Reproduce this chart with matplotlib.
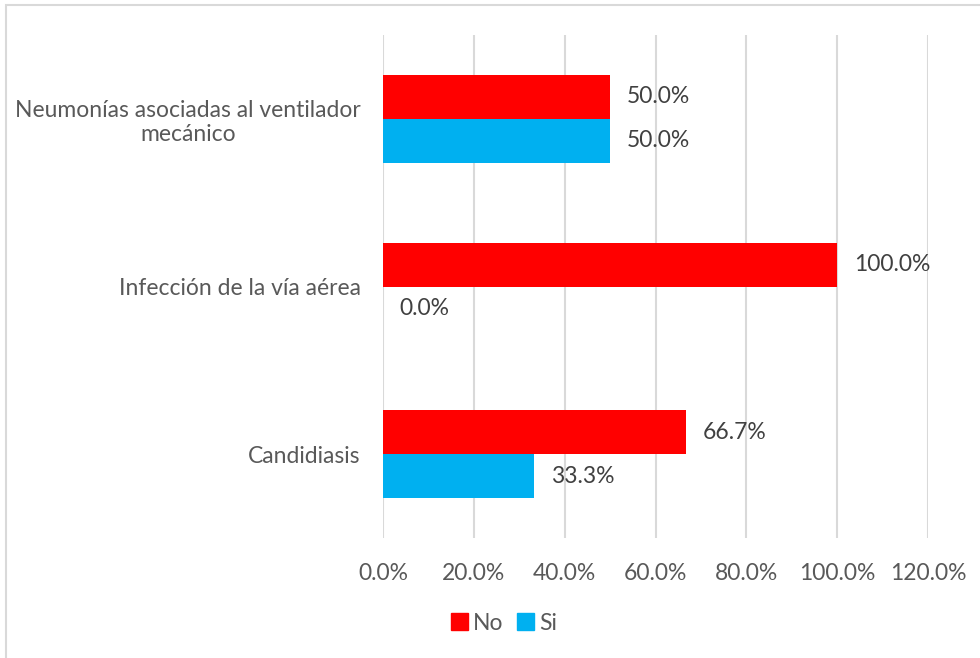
import matplotlib
matplotlib.use("Agg")
import matplotlib.pyplot as plt
from matplotlib.patches import Patch, Rectangle
import numpy as np

plt.rcParams['font.family'] = ['Liberation Sans Narrow', 'Lato', 'DejaVu Sans']

# Data (bottom to top on the chart)
categories = ["Candidiasis", "Infección de la vía aérea",
              "Neumonías asociadas al ventilador\nmecánico"]
no_values = [66.7, 100.0, 50.0]
si_values = [33.3, 0.0, 50.0]
series_names = ["No", "Si"]
xticks = [0, 20, 40, 60, 80, 100, 120]

RED = "#FF0000"
BLUE = "#00B0F0"
GRID = "#D9D9D9"
TICK_TXT = "#595959"
VAL_TXT = "#404040"
FS = 16.5

W, H = 980, 658
fig = plt.figure(figsize=(W / 100, H / 100), dpi=100)
ax = fig.add_axes([383 / W, 1 - 538 / H, (928 - 383) / W, (538 - 35) / H])

y = np.arange(len(categories))
bh = 0.262
ax.barh(y + bh / 2, no_values, height=bh, color=RED, label=series_names[0])
ax.barh(y - bh / 2, si_values, height=bh, color=BLUE, label=series_names[1])

# value labels
for yi, v in zip(y, no_values):
    ax.annotate(f"{v:.1f}%", (v, yi + bh / 2), xytext=(12, 0),
                textcoords="offset points", va="center", ha="left",
                fontsize=FS, color=VAL_TXT)
for yi, v in zip(y, si_values):
    ax.annotate(f"{v:.1f}%", (v, yi - bh / 2), xytext=(12, 0),
                textcoords="offset points", va="center", ha="left",
                fontsize=FS, color=VAL_TXT)

ax.set_xlim(0, 120)
ax.set_ylim(-0.5, len(categories) - 0.5)
ax.set_xticks(xticks)
ax.set_xticklabels([f"{t:.1f}%" for t in xticks])
ax.set_yticks(y)
ax.set_yticklabels(categories)
for lab in ax.get_yticklabels():
    lab.set_multialignment("center")

ax.tick_params(axis="both", length=0, labelsize=FS, labelcolor=TICK_TXT)
ax.tick_params(axis="x", pad=18)
ax.tick_params(axis="y", pad=16)
ax.grid(axis="x", color=GRID, linewidth=1.5)
ax.set_axisbelow(True)
for s in ax.spines.values():
    s.set_visible(False)

handles = [Patch(color=RED), Patch(color=BLUE)]
fig.legend(handles, series_names, loc="center", ncol=2, frameon=False,
           bbox_to_anchor=(504 / W, 1 - 623 / H), fontsize=FS,
           labelcolor=TICK_TXT, handlelength=0.75, handleheight=0.75,
           handletextpad=0.2, columnspacing=0.6)

# chart-area border
fig.add_artist(Rectangle((6 / W, -0.1), 1.2, 1 - 5 / H + 0.1,
                         transform=fig.transFigure, fill=False,
                         edgecolor=GRID, linewidth=1.5))

fig.savefig("out.png", dpi=100)
